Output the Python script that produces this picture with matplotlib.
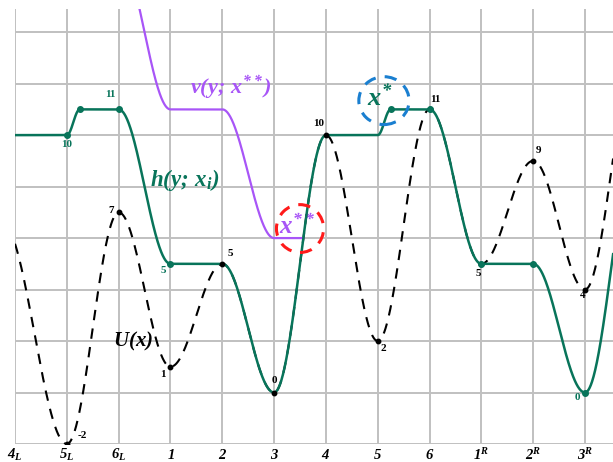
import numpy as np
import matplotlib
matplotlib.use("Agg")
import matplotlib.pyplot as plt
from matplotlib.patches import Ellipse

# --- DATA ---
tick_labels = [r"$4_L$", r"$5_L$", r"$6_L$", r"$1$", r"$2$", r"$3$",
               r"$4$", r"$5$", r"$6$", r"$1^R$", r"$2^R$", r"$3^R$"]

# U(x): extrema of the potential, one per site
u_x = [-0.25, 1, 2, 3, 4, 5, 6, 7, 8, 9, 10, 11, 12]
u_y = [6.6, -2, 7, 1, 5, 0, 10, 2, 11, 5, 9, 4, 13]
u_labels = ["-2", "7", "1", "5", "0", "10", "2", "11", "5", "9", "4"]

# h(y; x_i): knots of the green curve
h_x = [-1, 1, 1.25, 2, 3, 4, 5, 6, 7, 7.25, 8, 9, 10, 11, 12]
h_y = [10, 10, 11, 11, 5, 5, 0, 10, 10, 11, 11, 5, 5, 0, 9.5]
h_dots_x = [1, 1.25, 2, 3, 7.25, 8, 9, 10, 11]
h_dots_y = [10, 11, 11, 5, 11, 11, 5, 5, 0]
h_labels = ["10", "11", "5", "0"]
h_label_at = [(1, 10), (2, 11), (3, 5), (11, 0)]

# v(y; x**): knots of the purple curve
v_x = [2, 3, 4, 5, 7]
v_y = [17, 11, 11, 6, 6]

# --- STYLE ---
GREEN = "#08745a"
PURPLE = "#a855f7"
GRID = "#c0c0c0"

plt.rcParams["mathtext.fontset"] = "custom"
plt.rcParams["mathtext.it"] = "Liberation Serif:italic:bold"
plt.rcParams["mathtext.rm"] = "Liberation Serif:italic:bold"
plt.rcParams["mathtext.bf"] = "Liberation Serif:italic:bold"
plt.rcParams["mathtext.default"] = "it"


def cos_interp(kx, ky, x):
    """Smooth (cosine) interpolation between consecutive knots."""
    kx = np.asarray(kx, float)
    ky = np.asarray(ky, float)
    i = np.clip(np.searchsorted(kx, x, side="right") - 1, 0, len(kx) - 2)
    t = (x - kx[i]) / (kx[i + 1] - kx[i])
    w = (1 - np.cos(np.pi * t)) / 2
    return ky[i] + (ky[i + 1] - ky[i]) * w


xs = np.linspace(0, 11.6, 2000)
u = cos_interp(u_x, u_y, xs)
h = cos_interp(h_x, h_y, xs)

# purple runs until it meets the green curve after its plateau
xv = np.linspace(v_x[0], v_x[-1], 2000)
v = cos_interp(v_x, v_y, xv)
hv = cos_interp(h_x, h_y, xv)
stop = np.argmax((xv > 5) & (hv >= v))
xv, v = xv[:stop + 1], v[:stop + 1]

fig = plt.figure(figsize=(6.13, 4.62), dpi=100)
ax = fig.add_axes([0.0245, 0.039, 0.9755, 0.9415])
ax.set_xlim(0, 11.54)
ax.set_ylim(-2, 14.9)

for gx in range(12):
    ax.axvline(gx, color=GRID, lw=1.4, zorder=0)
for gy in range(-2, 15, 2):
    ax.axhline(gy, color=GRID, lw=1.4, zorder=0)
for s in ax.spines.values():
    s.set_visible(False)

ax.plot(xs, u, color="black", lw=1.5, dashes=(5, 4), zorder=2)
ax.plot(xv, v, color=PURPLE, lw=1.6, zorder=3)
ax.plot(xs, h, color=GREEN, lw=1.8, zorder=4)

ext_x = np.array(u_x[1:12])
ext_y = np.array(u_y[1:12])
ax.plot(ext_x, ext_y, "o", color="black", ms=3.2, zorder=5)
ax.plot(h_dots_x, h_dots_y, "o", color=GREEN, ms=4, zorder=6)

# labels of the extrema
u_off = [(0.29, 0.33), (-0.15, 0.07), (-0.14, -0.3), (0.15, 0.4), (0.0, 0.47),
         (-0.15, 0.45), (0.1, -0.3), (0.12, 0.4), (-0.06, -0.38), (0.1, 0.4),
         (-0.05, -0.25)]
for (xx, yy), txt, (dx, dy) in zip(zip(ext_x, ext_y), u_labels, u_off):
    ax.text(xx + dx, yy + dy, txt, fontsize=8, family="Liberation Serif",
            weight="bold", ha="center", va="center", zorder=7)

h_off = [(0.0, -0.35), (-0.17, 0.57), (-0.14, -0.26), (-0.15, -0.2)]
for (xx, yy), txt, (dx, dy) in zip(h_label_at, h_labels, h_off):
    ax.text(xx + dx, yy + dy, txt, fontsize=8, family="Liberation Serif",
            weight="bold", color=GREEN, ha="center", va="center", zorder=7)

# curve names
ax.text(3.38, 11.85, r"$v(y;\, x^{**})$", color=PURPLE, fontsize=16,
        ha="left", va="center")
ax.text(2.6, 8.27, r"$h(y;\, x_i)$", color=GREEN, fontsize=16.5,
        ha="left", va="center")
ax.text(1.89, 1.98, r"$U(x)$", color="black", fontsize=15,
        ha="left", va="center")

# marked points
ax.text(7.05, 11.45, r"$x^{*}$", color=GREEN, fontsize=19, ha="center", va="center")
ax.add_patch(Ellipse((7.12, 11.34), 0.97, 1.86, fill=False, ec="#1a7fd0",
                     lw=2.2, ls=(0, (4, 3)), zorder=8))
ax.text(5.45, 6.45, r"$x^{**}$", color=PURPLE, fontsize=18, ha="center", va="center")
ax.add_patch(Ellipse((5.5, 6.37), 0.91, 1.86, fill=False, ec="#ff1a1a",
                     lw=2.2, ls=(0, (4, 3)), zorder=8))

ax.set_xticks(range(12))
ax.set_xticklabels(tick_labels, fontsize=10.5)
ax.set_yticks([])
ax.tick_params(axis="x", length=0, pad=2)

fig.savefig("out.png", dpi=100)
